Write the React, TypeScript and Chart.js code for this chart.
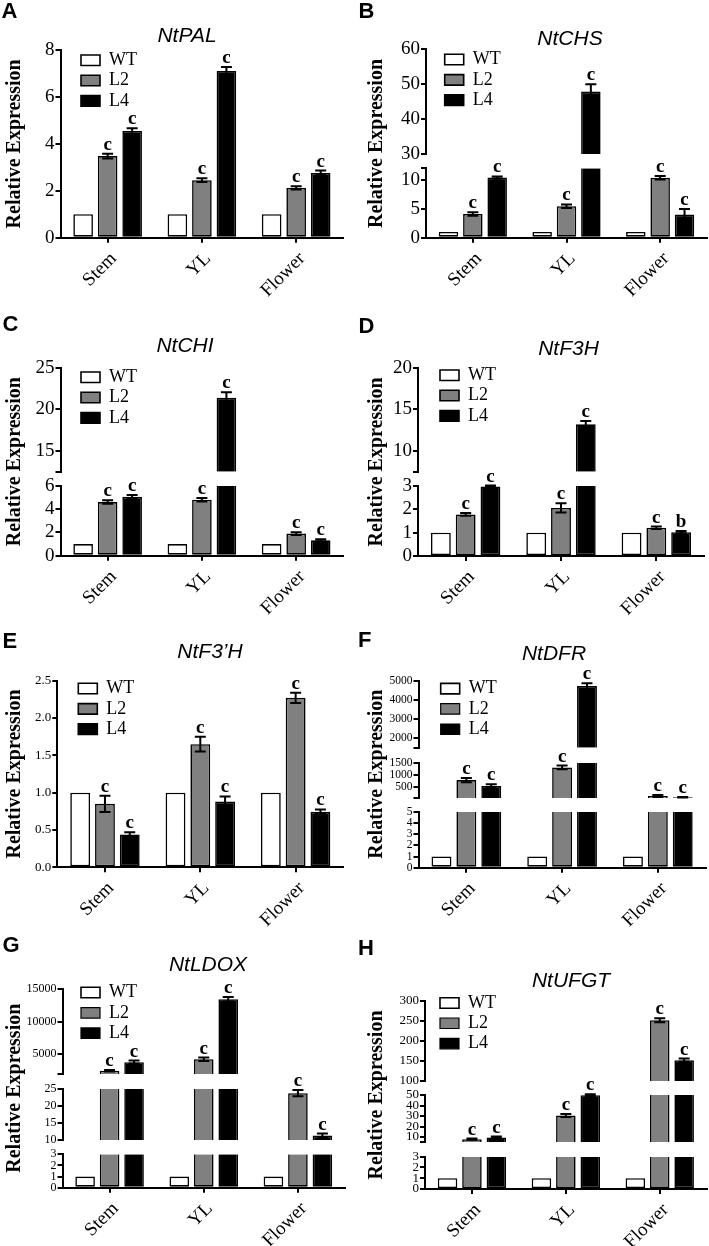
import React, { useEffect, useRef } from 'react';
import { Chart, registerables } from 'chart.js';

Chart.register(...registerables);

const SERIF = "'Liberation Serif', 'Times New Roman', serif";
const SANS = "'Liberation Sans', Arial, sans-serif";

const CATEGORIES = ['Stem', 'YL', 'Flower'];
const SERIES = ['WT', 'L2', 'L4'];
const FILLS = ['#ffffff', '#808080', '#000000'];

// WT is the reference (relative expression = 1)
const WT_REL = [1, 1, 1];
const WT_ERR = [0, 0, 0];
const WT_SIG = ['', '', ''];

// A  NtPAL
const PAL_L2 = [3.48, 2.45, 2.12];
const PAL_L4 = [4.55, 7.1, 2.76];
const PAL_L2_ERR = [0.1, 0.08, 0.07];
const PAL_L4_ERR = [0.12, 0.18, 0.1];
const PAL_L2_SIG = ['c', 'c', 'c'];
const PAL_L4_SIG = ['c', 'c', 'c'];
const PAL_TICKS = [0, 2, 4, 6, 8];
const PAL_LABELS = ['0', '2', '4', '6', '8'];

// B  NtCHS
const CHS_L2 = [4.1, 5.45, 10.35];
const CHS_L4 = [10.4, 47.9, 4.0];
const CHS_L2_ERR = [0.3, 0.3, 0.3];
const CHS_L4_ERR = [0.2, 2.1, 0.95];
const CHS_L2_SIG = ['c', 'c', 'c'];
const CHS_L4_SIG = ['c', 'c', 'c'];
const CHS_TICKS_LOW = [0, 5, 10, 12];
const CHS_LABELS_LOW = ['0', '5', '10', ''];
const CHS_TICKS_HIGH = [30, 40, 50, 60];
const CHS_LABELS_HIGH = ['30', '40', '50', '60'];

// C  NtCHI
const CHI_L2 = [4.6, 4.8, 1.9];
const CHI_L4 = [5.05, 21.4, 1.32];
const CHI_L2_ERR = [0.15, 0.15, 0.12];
const CHI_L4_ERR = [0.15, 0.65, 0.1];
const CHI_L2_SIG = ['c', 'c', 'c'];
const CHI_L4_SIG = ['c', 'c', 'c'];
const CHI_TICKS_LOW = [0, 2, 4, 6];
const CHI_LABELS_LOW = ['0', '2', '4', '6'];
const CHI_TICKS_HIGH = [12.5, 15, 20, 25];
const CHI_LABELS_HIGH = ['', '15', '20', '25'];

// D  NtF3H
const F3H_L2 = [1.78, 2.06, 1.21];
const F3H_L4 = [2.98, 13.2, 1.02];
const F3H_L2_ERR = [0.06, 0.2, 0.05];
const F3H_L4_ERR = [0.04, 0.4, 0.05];
const F3H_L2_SIG = ['c', 'c', 'c'];
const F3H_L4_SIG = ['c', 'c', 'b'];
const F3H_TICKS_LOW = [0, 1, 2, 3];
const F3H_LABELS_LOW = ['0', '1', '2', '3'];
const F3H_TICKS_HIGH = [7.5, 10, 15, 20];
const F3H_LABELS_HIGH = ['', '10', '15', '20'];

// E  NtF3'H
const F3PH_L2 = [0.85, 1.65, 2.27];
const F3PH_L4 = [0.44, 0.88, 0.745];
const F3PH_L2_ERR = [0.11, 0.1, 0.07];
const F3PH_L4_ERR = [0.03, 0.07, 0.03];
const F3PH_L2_SIG = ['c', 'c', 'c'];
const F3PH_L4_SIG = ['c', 'c', 'c'];
const F3PH_TICKS = [0, 0.5, 1, 1.5, 2, 2.5];
const F3PH_LABELS = ['0.0', '0.5', '1.0', '1.5', '2.0', '2.5'];

// F  NtDFR
const DFR_L2 = [770, 1300, 100];
const DFR_L4 = [520, 4720, 50];
const DFR_L2_ERR = [90, 80, 40];
const DFR_L4_ERR = [70, 150, 8];
const DFR_L2_SIG = ['c', 'c', 'c'];
const DFR_L4_SIG = ['c', 'c', 'c'];
const DFR_TICKS_LOW = [0, 1, 2, 3, 4, 5];
const DFR_LABELS_LOW = ['0', '1', '2', '3', '4', '5'];
const DFR_TICKS_MID = [5, 500, 1000, 1500];
const DFR_LABELS_MID = ['', '500', '1000', '1500'];
const DFR_TICKS_HIGH = [1500, 2000, 3000, 4000, 5000];
const DFR_LABELS_HIGH = ['', '2000', '3000', '4000', '5000'];

// G  NtLDOX
const LDOX_L2 = [2500, 4250, 23.7];
const LDOX_L4 = [3800, 13400, 11.3];
const LDOX_L2_ERR = [100, 250, 0.9];
const LDOX_L4_ERR = [250, 350, 0.6];
const LDOX_L2_SIG = ['c', 'c', 'c'];
const LDOX_L4_SIG = ['c', 'c', 'c'];
const LDOX_TICKS_LOW = [0, 1, 2, 3];
const LDOX_LABELS_LOW = ['0', '1', '2', '3'];
const LDOX_TICKS_MID = [10, 15, 20, 25];
const LDOX_LABELS_MID = ['10', '15', '20', '25'];
const LDOX_TICKS_HIGH = [2000, 5000, 10000, 15000];
const LDOX_LABELS_HIGH = ['', '5000', '10000', '15000'];

// H  NtUFGT
const UFGT_L2 = [8, 30.5, 252];
const UFGT_L4 = [9.6, 49.8, 152];
const UFGT_L2_ERR = [0.5, 1.5, 5];
const UFGT_L4_ERR = [0.9, 0.8, 4];
const UFGT_L2_SIG = ['c', 'c', 'c'];
const UFGT_L4_SIG = ['c', 'c', 'c'];
const UFGT_TICKS_LOW = [0, 1, 2, 3];
const UFGT_LABELS_LOW = ['0', '1', '2', '3'];
const UFGT_TICKS_MID = [5, 10, 20, 30, 40, 50];
const UFGT_LABELS_MID = ['', '10', '20', '30', '40', '50'];
const UFGT_TICKS_HIGH = [100, 150, 200, 250, 300];
const UFGT_LABELS_HIGH = ['100', '150', '200', '250', '300'];

type Seg = { ticks: number[]; labels: string[]; h: number };
type Panel = {
  key: string;
  letter: string;
  title: string;
  ox: number;
  oy: number;
  w: number;
  h: number;
  axisX: number;
  top: number;
  bottom: number;
  right: number;
  segs: Seg[];
  gaps: number[];
  values: number[][];
  errs: number[][];
  sigs: string[][];
  tickFont: number;
  legendDx: number;
  legendDy: number;
  titleCx: number;
  titleBase: number;
  letterX: number;
  letterTop: number;
  yTitleCx: number;
};

const PANELS: Panel[] = [
  {
    key: 'A', letter: 'A', title: 'NtPAL', ox: 0, oy: 0, w: 354, h: 310,
    axisX: 60.5, top: 50, bottom: 237.7, right: 343.3,
    segs: [{ ticks: PAL_TICKS, labels: PAL_LABELS, h: 187.7 }], gaps: [],
    values: [WT_REL, PAL_L2, PAL_L4], errs: [WT_ERR, PAL_L2_ERR, PAL_L4_ERR], sigs: [WT_SIG, PAL_L2_SIG, PAL_L4_SIG],
    tickFont: 19, legendDx: 20.5, legendDy: 5, titleCx: 187, titleBase: 42, letterX: 1.5, letterTop: 3, yTitleCx: 15,
  },
  {
    key: 'B', letter: 'B', title: 'NtCHS', ox: 354, oy: 0, w: 355, h: 310,
    axisX: 426, top: 49.3, bottom: 237.7, right: 707,
    segs: [
      { ticks: CHS_TICKS_LOW, labels: CHS_LABELS_LOW, h: 69.4 },
      { ticks: CHS_TICKS_HIGH, labels: CHS_LABELS_HIGH, h: 104.7 },
    ], gaps: [14.3],
    values: [WT_REL, CHS_L2, CHS_L4], errs: [WT_ERR, CHS_L2_ERR, CHS_L4_ERR], sigs: [WT_SIG, CHS_L2_SIG, CHS_L4_SIG],
    tickFont: 19, legendDx: 18.7, legendDy: 5, titleCx: 570, titleBase: 45, letterX: 358.5, letterTop: 3.3, yTitleCx: 23,
  },
  {
    key: 'C', letter: 'C', title: 'NtCHI', ox: 0, oy: 310, w: 354, h: 310,
    axisX: 60.5, top: 367.7, bottom: 555.7, right: 343.3,
    segs: [
      { ticks: CHI_TICKS_LOW, labels: CHI_LABELS_LOW, h: 70 },
      { ticks: CHI_TICKS_HIGH, labels: CHI_LABELS_HIGH, h: 104 },
    ], gaps: [14],
    values: [WT_REL, CHI_L2, CHI_L4], errs: [WT_ERR, CHI_L2_ERR, CHI_L4_ERR], sigs: [WT_SIG, CHI_L2_SIG, CHI_L4_SIG],
    tickFont: 19, legendDx: 20.5, legendDy: 4.3, titleCx: 185, titleBase: 352, letterX: 2.5, letterTop: 316, yTitleCx: 15,
  },
  {
    key: 'D', letter: 'D', title: 'NtF3H', ox: 354, oy: 310, w: 355, h: 310,
    axisX: 418, top: 367.7, bottom: 556, right: 704,
    segs: [
      { ticks: F3H_TICKS_LOW, labels: F3H_LABELS_LOW, h: 70 },
      { ticks: F3H_TICKS_HIGH, labels: F3H_LABELS_HIGH, h: 104 },
    ], gaps: [14.3],
    values: [WT_REL, F3H_L2, F3H_L4], errs: [WT_ERR, F3H_L2_ERR, F3H_L4_ERR], sigs: [WT_SIG, F3H_L2_SIG, F3H_L4_SIG],
    tickFont: 19, legendDx: 22, legendDy: 2.3, titleCx: 568.5, titleBase: 355, letterX: 358.5, letterTop: 318, yTitleCx: 23,
  },
  {
    key: 'E', letter: 'E', title: 'NtF3\u2019H', ox: 0, oy: 620, w: 354, h: 310,
    axisX: 57.3, top: 680.7, bottom: 867.3, right: 343.3,
    segs: [{ ticks: F3PH_TICKS, labels: F3PH_LABELS, h: 186.6 }], gaps: [],
    values: [WT_REL, F3PH_L2, F3PH_L4], errs: [WT_ERR, F3PH_L2_ERR, F3PH_L4_ERR], sigs: [WT_SIG, F3PH_L2_SIG, F3PH_L4_SIG],
    tickFont: 13, legendDx: 21, legendDy: 2.6, titleCx: 210, titleBase: 658, letterX: 2.5, letterTop: 632.7, yTitleCx: 14.5,
  },
  {
    key: 'F', letter: 'F', title: 'NtDFR', ox: 354, oy: 620, w: 355, h: 310,
    axisX: 418.5, top: 680.7, bottom: 867.7, right: 705.7,
    segs: [
      { ticks: DFR_TICKS_LOW, labels: DFR_LABELS_LOW, h: 56 },
      { ticks: DFR_TICKS_MID, labels: DFR_LABELS_MID, h: 35.6 },
      { ticks: DFR_TICKS_HIGH, labels: DFR_LABELS_HIGH, h: 67 },
    ], gaps: [13.4, 15],
    values: [WT_REL, DFR_L2, DFR_L4], errs: [WT_ERR, DFR_L2_ERR, DFR_L4_ERR], sigs: [WT_SIG, DFR_L2_SIG, DFR_L4_SIG],
    tickFont: 11.5, legendDx: 22.2, legendDy: 2.7, titleCx: 554, titleBase: 660, letterX: 358, letterTop: 631.7, yTitleCx: 23,
  },
  {
    key: 'G', letter: 'G', title: 'NtLDOX', ox: 0, oy: 930, w: 354, h: 316,
    axisX: 62.5, top: 988.7, bottom: 1187.7, right: 345,
    segs: [
      { ticks: LDOX_TICKS_LOW, labels: LDOX_LABELS_LOW, h: 33.4 },
      { ticks: LDOX_TICKS_MID, labels: LDOX_LABELS_MID, h: 51.3 },
      { ticks: LDOX_TICKS_HIGH, labels: LDOX_LABELS_HIGH, h: 85.3 },
    ], gaps: [14.3, 14.7],
    values: [WT_REL, LDOX_L2, LDOX_L4], errs: [WT_ERR, LDOX_L2_ERR, LDOX_L4_ERR], sigs: [WT_SIG, LDOX_L2_SIG, LDOX_L4_SIG],
    tickFont: 12, legendDx: 18.5, legendDy: -1.4, titleCx: 208, titleBase: 971, letterX: 2.5, letterTop: 937.3, yTitleCx: 14.5,
  },
  {
    key: 'H', letter: 'H', title: 'NtUFGT', ox: 354, oy: 930, w: 355, h: 316,
    axisX: 425, top: 1001, bottom: 1189, right: 706.7,
    segs: [
      { ticks: UFGT_TICKS_LOW, labels: UFGT_LABELS_LOW, h: 32.3 },
      { ticks: UFGT_TICKS_MID, labels: UFGT_LABELS_MID, h: 47.3 },
      { ticks: UFGT_TICKS_HIGH, labels: UFGT_LABELS_HIGH, h: 80 },
    ], gaps: [14.4, 14],
    values: [WT_REL, UFGT_L2, UFGT_L4], errs: [WT_ERR, UFGT_L2_ERR, UFGT_L4_ERR], sigs: [WT_SIG, UFGT_L2_SIG, UFGT_L4_SIG],
    tickFont: 13, legendDx: 15, legendDy: -3.3, titleCx: 571, titleBase: 987, letterX: 358, letterTop: 940, yTitleCx: 22.7,
  },
];

const BW = 1.6;
const CAP = 11;
const TW = 26;
const LEG_FONT = 18;
const LEG_BOX_H = 10.5;
const LEG_PAD = 2.3;

function segLo(s: Seg) {
  return s.ticks[0];
}
function segHi(s: Seg) {
  return s.ticks[s.ticks.length - 1];
}

function buildConfig(p: Panel): any {
  const nSeg = p.segs.length;
  const datasets: any[] = [];
  for (let k = 0; k < nSeg; k++) {
    const L = segLo(p.segs[k]);
    const H = segHi(p.segs[k]);
    for (let s = 0; s < 3; s++) {
      datasets.push({
        label: SERIES[s],
        stack: SERIES[s],
        yAxisID: 'y' + k,
        data: p.values[s].map((v) => (v > L ? [L, Math.min(v, H)] : null)),
        backgroundColor: FILLS[s],
        borderColor: '#000000',
        borderSkipped: false,
        borderWidth: (c: any) => {
          if (c.type !== 'data') return BW;
          const v = p.values[s][c.dataIndex];
          return { left: BW, right: BW, top: v > H ? 0 : BW, bottom: L > 0 ? 0 : BW };
        },
        categoryPercentage: 0.78,
        barPercentage: 0.8,
      });
    }
  }

  const sw = p.axisX - p.ox - TW;
  const scales: any = {
    x: {
      type: 'category',
      offset: true,
      grid: { display: true, drawOnChartArea: false, drawTicks: true, tickLength: 5, offset: false, color: '#000', lineWidth: 2 },
      border: { display: true, color: '#000', width: 2 },
      ticks: {
        color: '#000',
        font: { family: SERIF, size: 19 },
        minRotation: 45,
        maxRotation: 45,
        autoSkip: false,
        padding: 5,
        labelOffset: 6,
      },
      afterFit: (sc: any) => {
        sc.height = p.h - (p.bottom - p.oy);
      },
    },
    yt: {
      type: 'linear',
      position: 'left',
      weight: 100,
      grid: { display: false },
      border: { display: false },
      ticks: { display: false },
      title: {
        display: true,
        text: 'Relative Expression',
        color: '#000',
        font: { family: SERIF, size: 20, weight: 'bold', lineHeight: 1 },
        padding: { top: p.yTitleCx - 10, bottom: 0 },
      },
      afterFit: (sc: any) => {
        sc.width = TW;
      },
    },
  };

  let order = 0;
  for (let k = nSeg - 1; k >= 0; k--) {
    const seg = p.segs[k];
    scales['y' + k] = {
      type: 'linear',
      position: 'left',
      stack: 'v',
      stackWeight: seg.h,
      weight: 50 - order++,
      min: segLo(seg),
      max: segHi(seg),
      bounds: 'data',
      beginAtZero: false,
      stacked: false,
      afterBuildTicks: (sc: any) => {
        sc.ticks = seg.ticks.map((v) => ({ value: v }));
      },
      afterFit: (sc: any) => {
        sc.width = sw;
      },
      ticks: {
        autoSkip: false,
        color: '#000',
        font: { family: SERIF, size: p.tickFont },
        padding: 1,
        callback: (_v: any, i: number) => seg.labels[i],
      },
      grid: { display: true, drawOnChartArea: false, drawTicks: true, tickLength: 5, color: '#000', lineWidth: 2 },
      border: { display: true, color: '#000', width: 2 },
    };
    if (k > 0) {
      scales['gap' + k] = {
        type: 'linear',
        position: 'left',
        stack: 'v',
        stackWeight: p.gaps[k - 1],
        weight: 50 - order++,
        display: false,
      };
    }
  }

  const legendPos = {
    id: 'legendPos',
    afterLayout(chart: any) {
      const lg = chart.legend;
      if (!lg) return;
      const ca = chart.chartArea;
      lg.left = ca.left + p.legendDx - LEG_PAD;
      lg.top = ca.top + p.legendDy - LEG_PAD - (LEG_FONT - LEG_BOX_H) / 2;
      lg.right = ca.right;
      lg.bottom = ca.bottom;
      lg.width = lg.right - lg.left;
      lg.height = lg.bottom - lg.top;
    },
  };

  const errLetters = {
    id: 'errLetters',
    afterDatasetsDraw(chart: any) {
      const ctx = chart.ctx;
      ctx.save();
      for (let s = 0; s < 3; s++) {
        for (let i = 0; i < CATEGORIES.length; i++) {
          const v = p.values[s][i];
          const e = p.errs[s][i];
          const sig = p.sigs[s][i];
          let k = 0;
          for (let j = 0; j < nSeg; j++) {
            if (v > segLo(p.segs[j]) || j === 0) k = j;
          }
          const meta = chart.getDatasetMeta(k * 3 + s);
          const el = meta && meta.data[i];
          if (!el) continue;
          const sc = chart.scales['y' + k];
          const lo = segLo(p.segs[k]);
          const x = el.x;
          const yTop = sc.getPixelForValue(v + e);
          if (e > 0) {
            const yBot = sc.getPixelForValue(Math.max(v - e, lo));
            ctx.strokeStyle = '#000';
            ctx.lineWidth = 2;
            ctx.beginPath();
            ctx.moveTo(x, yBot);
            ctx.lineTo(x, yTop);
            ctx.moveTo(x - CAP / 2, yTop);
            ctx.lineTo(x + CAP / 2, yTop);
            if (v - e >= lo) {
              ctx.moveTo(x - CAP / 2, yBot);
              ctx.lineTo(x + CAP / 2, yBot);
            }
            ctx.stroke();
          }
          if (sig) {
            ctx.fillStyle = '#000';
            ctx.font = `bold 19px ${SERIF}`;
            ctx.textAlign = 'center';
            ctx.textBaseline = 'alphabetic';
            ctx.fillText(sig, x, yTop - 4);
          }
        }
      }
      ctx.restore();
    },
  };

  return {
    type: 'bar',
    data: { labels: CATEGORIES, datasets },
    options: {
      responsive: false,
      animation: false,
      devicePixelRatio: 1,
      layout: {
        padding: {
          left: 0,
          top: p.top - p.oy,
          right: p.ox + p.w - p.right,
          bottom: 0,
        },
      },
      scales,
      plugins: {
        title: { display: false },
        tooltip: { enabled: false },
        legend: {
          display: true,
          position: 'chartArea',
          align: 'start',
          labels: {
            boxWidth: 19,
            boxHeight: LEG_BOX_H,
            padding: LEG_PAD,
            color: '#000',
            font: { family: SERIF, size: LEG_FONT },
            filter: (item: any) => item.datasetIndex < 3,
          },
        },
      },
    },
    plugins: [legendPos, errLetters],
  };
}

function PanelChart({ p }: { p: Panel }) {
  const ref = useRef<HTMLCanvasElement | null>(null);
  useEffect(() => {
    if (!ref.current) return;
    const chart = new Chart(ref.current, buildConfig(p));
    return () => chart.destroy();
  }, [p]);
  return (
    <div style={{ position: 'absolute', left: p.ox, top: p.oy, width: p.w, height: p.h }}>
      <canvas ref={ref} width={p.w} height={p.h} style={{ position: 'absolute', left: 0, top: 0, width: p.w, height: p.h }} />
      <div
        style={{
          position: 'absolute',
          left: p.letterX - p.ox,
          top: p.letterTop - p.oy - 2.85,
          fontFamily: SANS,
          fontWeight: 'bold',
          fontSize: 22,
          lineHeight: '22px',
          color: '#000',
          whiteSpace: 'nowrap',
        }}
      >
        {p.letter}
      </div>
      <div
        style={{
          position: 'absolute',
          left: p.titleCx - p.ox,
          top: p.titleBase - p.oy - 17.8,
          transform: 'translateX(-50%)',
          fontFamily: SANS,
          fontStyle: 'italic',
          fontSize: 21,
          lineHeight: '21px',
          color: '#000',
          whiteSpace: 'nowrap',
        }}
      >
        {p.title}
      </div>
    </div>
  );
}

export default function App() {
  return (
    <div style={{ position: 'absolute', left: 0, top: 0, width: 709, height: 1246, background: '#ffffff', overflow: 'hidden' }}>
      {PANELS.map((p) => (
        <PanelChart key={p.key} p={p} />
      ))}
    </div>
  );
}
